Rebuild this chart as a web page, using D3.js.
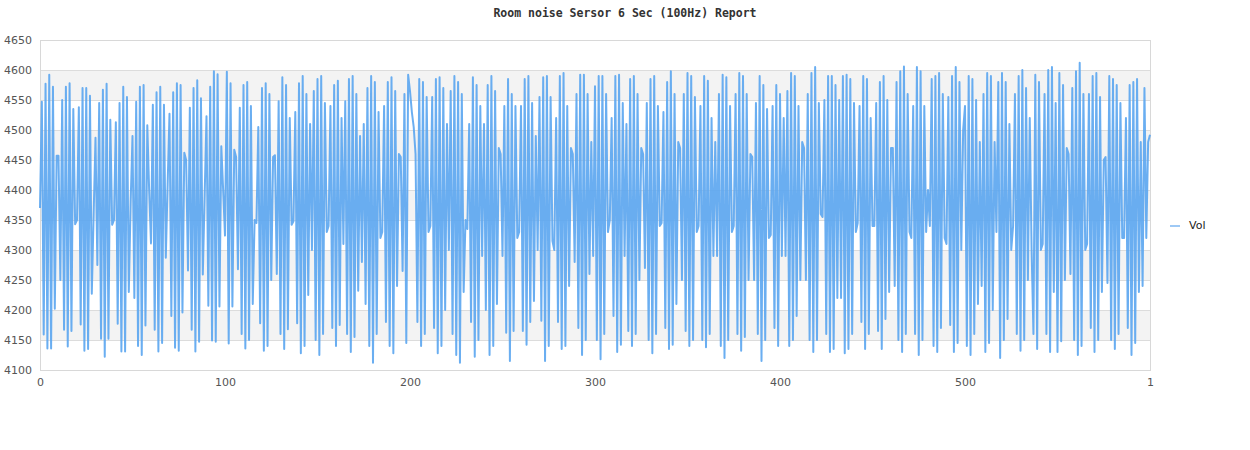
<!DOCTYPE html>
<html><head><meta charset="utf-8">
<script src="https://cdn.jsdelivr.net/npm/d3@7"></script>
<style>body{margin:0;background:#fff}svg{display:block}</style>
</head><body>
<svg id="c" width="1250" height="450"></svg>
<script>
const titleText = "Room noise Sersor 6 Sec (100Hz) Report";
const seriesName = "Vol";
const xTicks = [0,100,200,300,400,500,600];
const xTickLabels = ["0","100","200","300","400","500","1"];
const yTicks = [4100,4150,4200,4250,4300,4350,4400,4450,4500,4550,4600,4650];
const vol = [
4370,4547,4159,4577,4136,4592,4136,4572,4202,4457,
4457,4250,4550,4167,4572,4139,4578,4165,4535,4343,
4350,4538,4176,4570,4132,4570,4135,4557,4227,4360,
4487,4275,4545,4152,4567,4122,4577,4152,4517,4342,
4350,4513,4177,4545,4131,4572,4131,4555,4230,4380,
4490,4220,4547,4140,4572,4125,4575,4174,4508,4400,
4311,4542,4167,4563,4131,4572,4145,4542,4287,4410,
4527,4190,4563,4137,4578,4132,4575,4196,4462,4450,
4266,4537,4167,4570,4131,4583,4147,4553,4259,4390,
4523,4207,4572,4149,4598,4147,4593,4206,4473,4400,
4324,4597,4144,4578,4206,4467,4455,4268,4537,4160,
4575,4136,4580,4150,4540,4210,4350,4345,4505,4178,
4570,4132,4578,4140,4560,4250,4455,4458,4260,4548,
4160,4588,4135,4575,4168,4520,4342,4348,4530,4178,
4578,4128,4590,4140,4560,4225,4510,4300,4565,4150,
4585,4125,4590,4160,4545,4330,4340,4540,4170,4575,
4140,4582,4175,4520,4310,4548,4160,4585,4130,4590,
4155,4560,4232,4490,4280,4510,4210,4570,4140,4590,
4112,4580,4160,4530,4320,4330,4540,4180,4580,4140,
4588,4128,4565,4240,4460,4455,4265,4560,4145,4592,
4565,4530,4505,4460,4180,4585,4140,4580,4160,4555,
4330,4340,4555,4170,4585,4128,4588,4140,4570,4200,
4510,4300,4565,4160,4590,4125,4580,4112,4560,4230,
4350,4335,4510,4180,4588,4122,4575,4150,4540,4290,
4510,4200,4575,4125,4590,4140,4565,4210,4470,4460,
4290,4540,4162,4585,4115,4560,4165,4540,4320,4330,
4540,4165,4585,4142,4590,4180,4545,4215,4490,4300,
4555,4182,4588,4115,4590,4140,4555,4315,4300,4520,
4180,4590,4135,4595,4140,4540,4240,4470,4460,4280,
4560,4170,4592,4125,4592,4150,4560,4260,4480,4290,
4573,4150,4590,4118,4590,4160,4560,4330,4350,4520,
4190,4590,4130,4592,4142,4545,4290,4510,4165,4585,
4140,4590,4160,4560,4250,4470,4460,4270,4545,4150,
4585,4128,4590,4160,4540,4340,4345,4530,4170,4580,
4135,4598,4142,4560,4210,4480,4470,4250,4560,4165,
4595,4140,4590,4150,4555,4330,4340,4540,4150,4590,
4138,4582,4160,4520,4290,4480,4290,4560,4140,4592,
4120,4588,4150,4540,4330,4340,4560,4160,4595,4132,
4590,4155,4560,4250,4460,4455,4250,4545,4160,4590,
4115,4575,4150,4535,4320,4325,4540,4170,4575,4140,
4560,4290,4520,4290,4565,4140,4595,4150,4590,4190,
4540,4250,4480,4470,4250,4560,4150,4595,4130,4605,
4150,4545,4360,4355,4550,4160,4590,4130,4590,4135,
4575,4220,4550,4220,4590,4128,4592,4135,4585,4160,
4545,4330,4345,4540,4180,4590,4135,4585,4160,4520,
4340,4340,4545,4165,4580,4135,4590,4185,4550,4230,
4470,4470,4240,4580,4150,4598,4130,4606,4160,4560,
4330,4320,4540,4160,4605,4125,4598,4150,4540,4330,
4400,4340,4585,4140,4590,4130,4595,4170,4560,4320,
4310,4555,4175,4590,4130,4605,4145,4580,4300,4500,
4540,4140,4590,4125,4585,4160,4550,4210,4480,4240,
4560,4130,4595,4145,4590,4200,4480,4330,4580,4120,
4595,4150,4580,4185,4510,4300,4340,4560,4160,4590,
4132,4600,4150,4570,4250,4520,4300,4160,4592,4135,
4580,4300,4310,4560,4160,4600,4130,4605,4230,4545,
4130,4595,4148,4575,4250,4470,4460,4260,4570,4150,
4598,4125,4612,4140,4560,4300,4310,4560,4170,4590,
4130,4595,4150,4555,4230,4450,4455,4245,4590,4150,
4585,4135,4575,4160,4545,4320,4320,4520,4170,4575,
4125,4580,4145,4585,4230,4480,4240,4570,4320,4480,
4492
];

const svg = d3.select("#c");
const L = 40, R = 1150, T = 40, B = 370;
const x = d3.scaleLinear().domain([0,600]).range([L,R]);
const y = d3.scaleLinear().domain([4100,4650]).range([B,T]);

// alternating bands
const bandStarts = [4150,4250,4350,4450,4550];
svg.append("g").selectAll("rect").data(bandStarts).join("rect")
  .attr("x", L).attr("width", R-L)
  .attr("y", d => y(d+50)).attr("height", d => y(d)-y(d+50))
  .attr("fill", "#f3f3f3");

// grid lines
svg.append("g").selectAll("line").data(yTicks).join("line")
  .attr("x1", L).attr("x2", R)
  .attr("y1", d => y(d)+0.5).attr("y2", d => y(d)+0.5)
  .attr("stroke", "#dcdcdc").attr("stroke-width", 1);

// border
svg.append("rect").attr("x", L+0.5).attr("y", T+0.5)
  .attr("width", R-L).attr("height", B-T)
  .attr("fill", "none").attr("stroke", "#d8d8d8");

// y axis labels
const yAxis = d3.axisLeft(y).tickValues(yTicks).tickSize(0).tickPadding(8).tickFormat(d3.format("d"));
const gy = svg.append("g").attr("transform", `translate(${L},0)`).call(yAxis);
gy.select(".domain").remove();
gy.selectAll("text").attr("font-family","DejaVu Sans, sans-serif").attr("font-size","11px").attr("fill","#555");

// x axis labels
const xAxis = d3.axisBottom(x).tickValues(xTicks).tickSize(0).tickPadding(8)
  .tickFormat((d,i) => xTickLabels[i]);
const gx = svg.append("g").attr("transform", `translate(0,${B})`).call(xAxis);
gx.select(".domain").remove();
gx.selectAll("text").attr("font-family","DejaVu Sans, sans-serif").attr("font-size","11px").attr("fill","#555");

// line
const line = d3.line().x((d,i) => x(i)).y(d => y(d));
svg.append("path").datum(vol)
  .attr("d", line).attr("fill","none")
  .attr("stroke","#5aa5ef").attr("stroke-width",2).attr("stroke-opacity",0.9)
  .attr("stroke-linejoin","round");

// legend
svg.append("line").attr("x1",1170).attr("x2",1180).attr("y1",226).attr("y2",226)
  .attr("stroke","#9ec9f5").attr("stroke-width",2);
svg.append("text").attr("x",1189).attr("y",229).text(seriesName)
  .attr("font-family","DejaVu Sans, sans-serif").attr("font-size","11px").attr("fill","#222");

// title
svg.append("text").attr("x",625).attr("y",17).attr("text-anchor","middle").text(titleText)
  .attr("font-family","DejaVu Sans Mono, monospace").attr("font-weight","bold")
  .attr("font-size","11.5px").attr("fill","#333");
</script>
</body></html>
